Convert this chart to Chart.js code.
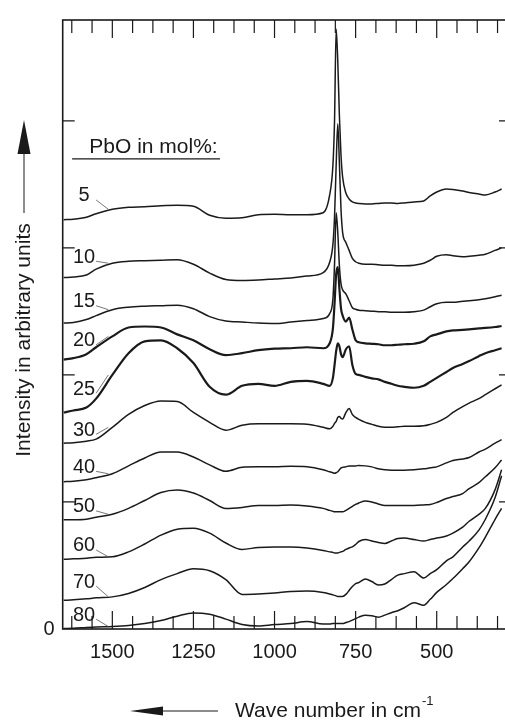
<!DOCTYPE html>
<html>
<head>
<meta charset="utf-8">
<script src="https://cdn.jsdelivr.net/npm/chart.js@4.4.1/dist/chart.umd.min.js"></script>
<style>
  html, body { margin: 0; padding: 0; background: #fff; overflow: hidden; }
  #wrap { position: relative; width: 512px; height: 720px; }
</style>
</head>
<body>
<div id="wrap"><canvas id="chart"></canvas></div>
<script>
// Raman spectra of PbO glasses, stacked, intensity in arbitrary units
const wavenumbers = [1650,1620,1580,1550,1500,1450,1400,1350,1300,1250,1200,1150,1100,1050,1000,950,900,850,830,820,815,810,805,800,795,790,780,770,760,750,740,720,700,680,660,640,620,600,570,540,520,500,470,450,420,400,370,350,320,300];

const pbo5  = [414,414.5,416.5,420,424.5, 426.5,427,428,428.5,427.5, 418.5,415.5,416,419,419.5, 419,419,421,439,469, 514,607,574,519,479, 457,441,435,432,431, 430.5,430,430,430.5,431, 431,430.5,431,432,433, 438,442,445,444.5,443, 441.5,440,439,442,445];
const pbo10 = [355.5,356,358,364,370, 372,372.5,373,373.5,369, 360,353.5,352.5,353,354, 355,357,360.5,371,389, 417,469,511,471,424, 401,391,383,375,371.5, 370,369,369,368.5,368, 368,367.5,367.5,368,370, 373,377,378.5,377.5,376.5, 377,378,379,383,385.5];
const pbo15 = [309.5,310,313,317,323, 325.5,326.5,327,327.5,324, 316,311.5,310.5,309.5,309, 310.5,312,314,319,334, 369,421,401,367,349, 343,339,332,325,323.5, 322.5,322,321.5,321,321, 320.5,320.5,320.5,321,322.5, 326,329,330.5,330.5,331.5, 332,333,334,336,337.5];
const pbo20 = [272.5,274,278,285,296, 305,306,305,298,292, 283,277,279,282,283.5, 284,285,284,289,304, 329,359,366,344,324, 317,311,315,303,292, 290,289,288.5,288,287, 287,287.5,288,288.5,291, 296,298,301,302,302.5, 303,304,304.5,305.5,306.5];
const pbo25 = [219,221,224,233,257, 279,291,292,284,269, 245,237,246,248,246, 250,251,248,246,254, 267,281,289,286,278, 275,283,286,267,258, 257,255,253.5,252.5,250, 248,246,245,244,246, 250,254,260,264,268, 271,276,279,282,284];
const pbo30 = [188,188.5,190,192,204, 217,226,230.5,230,219, 209,201,206,207.5,207.5, 207.5,207,204,202.5,205, 208,210,214,215,213, 212.5,219,223,217,214, 212,209,207,205,204, 204,204.5,205,205,205.5, 207,209,214,219,225, 228.5,233,237,243,247];
const pbo40 = [149,149.5,151,153,157, 165,173,179,179,174, 166,159.5,163.5,164,164, 164.5,164,161,159,158, 157.5,158,159,161,163, 163.5,164,165,165,165, 165.5,165,164,162,161, 160.5,160.5,160.5,161,162, 163,164,168,170.5,172, 173.5,179,182,188,191.5];
const pbo50 = [110.5,110.5,111,113,116, 122,130,138,140.5,137.5, 130,122,123,125,125, 125.5,124.5,122,120,119, 118.5,118.5,118.5,118.5,118.5, 118.5,120,122,124,126, 127.5,129.5,128.5,126.5,125, 125,125,125,125,125.5, 126,128,132,134,137, 142,148,154,163,171];
const pbo60 = [70.5,71,71.5,72.5,73, 78,86,95,101,102, 97,87,80.5,82.5,83, 83,82,79.5,78,77.5, 77,77,77,77.5,78, 78.5,80.5,82,83,85.5, 88.5,90.5,89,87.5,86.5, 89,91.5,92,90.5,89, 90.5,92,94,97,103, 109,116,122,141,161];
const pbo70 = [29,29.5,30.5,31.5,32.5, 36,42,50,56,61, 59,50,35,35.5,36.5, 38,38.5,37,35.5,34.5, 34,33.5,33,33,33, 33,35,39,43,46, 47,50.5,48,44.5,45.5, 50,54.5,56,58,51.5, 56,60,69,73,83, 89,100,111,133,155];
const pbo80 = [0.5,0.7,1.5,2,2.5, 3.5,5.5,8.5,13,16.3, 15,10,4.5,3,4.5, 5.5,7.5,5,5,5.5, 5.5,5.5,5.5,5.5,5.5, 5.5,6.5,7.5,9,10.5, 12,14,13.5,12,14, 16.5,18.5,21.5,26.5,24, 30,37,45,51,61, 68,82,93,111,122];

const compositions = ['5','10','15','20','25','30','40','50','60','70','80'];
const spectra = [pbo5,pbo10,pbo15,pbo20,pbo25,pbo30,pbo40,pbo50,pbo60,pbo70,pbo80];
const labelLevels = [438,376,331,291.5,242.5,201,163.5,123.5,84,47.5,14];

const xTicks = [1625,1562.5,1500,1437.5,1375,1312.5,1250,1187.5,1125,1062.5,1000,937.5,875,812.5,750,687.5,625,562.5,500,437.5,375,312.5];
const xLabelled = [1500,1250,1000,750,500];
const yTicks = [0,128.5,257,385.5,514];

const FONT = '"Liberation Sans", Arial, sans-serif';
const INK = '#1a1a1a';

const datasets = spectra.map((s, i) => ({
  label: compositions[i],
  data: s.map((v, j) => ({ x: wavenumbers[j], y: v })),
  borderColor: INK,
  borderWidth: (i === 3 || i === 4) ? 2.2 : 1.5,
  pointRadius: 0,
  fill: false,
  cubicInterpolationMode: 'monotone'
}));

const decorations = {
  id: 'decorations',
  afterDatasetsDraw(chart) {
    const { ctx, chartArea: a, scales: { x, y } } = chart;
    ctx.save();
    ctx.strokeStyle = INK;
    ctx.lineWidth = 1.2;
    ctx.beginPath();
    x.ticks.forEach(t => {
      const px = x.getPixelForValue(t.value);
      const len = xLabelled.includes(t.value) ? 18 : 13;
      ctx.moveTo(px, a.bottom); ctx.lineTo(px, a.bottom - len);
      ctx.moveTo(px, a.top); ctx.lineTo(px, a.top + len);
    });
    y.ticks.forEach(t => {
      if (t.value === 0) return;
      const py = y.getPixelForValue(t.value);
      ctx.moveTo(a.left, py); ctx.lineTo(a.left + 12, py);
      ctx.moveTo(a.right, py); ctx.lineTo(a.right - 12, py);
    });
    ctx.stroke();
    ctx.lineWidth = 1.6;
    ctx.strokeRect(a.left, a.top, a.right - a.left, a.bottom - a.top);

    // curve labels with leader lines
    ctx.font = '20px ' + FONT;
    ctx.fillStyle = INK;
    ctx.textAlign = 'center';
    ctx.textBaseline = 'middle';
    const tx = x.getPixelForValue(1587);
    compositions.forEach((c, i) => {
      const ty = y.getPixelForValue(labelLevels[i]);
      ctx.fillText(c, tx, ty);
      const p = chart.getDatasetMeta(i).data[4];
      ctx.beginPath();
      ctx.strokeStyle = '#555';
      ctx.lineWidth = 0.8;
      ctx.moveTo(tx + 12, ty + 4);
      ctx.lineTo(p.x - 4, p.y);
      ctx.stroke();
    });

    // header
    ctx.font = '21px ' + FONT;
    ctx.textAlign = 'left';
    ctx.fillText('PbO in mol%:', x.getPixelForValue(1571), y.getPixelForValue(487));
    ctx.beginPath();
    ctx.strokeStyle = INK;
    ctx.lineWidth = 1.2;
    const uy = y.getPixelForValue(475.5);
    ctx.moveTo(x.getPixelForValue(1624), uy);
    ctx.lineTo(x.getPixelForValue(1168), uy);
    ctx.stroke();
    ctx.restore();
  },
  afterDraw(chart) {
    const { ctx } = chart;
    ctx.save();
    ctx.fillStyle = INK;
    ctx.strokeStyle = INK;
    ctx.lineWidth = 1;

    // y title with arrow
    ctx.save();
    ctx.translate(24, 340);
    ctx.rotate(-Math.PI / 2);
    ctx.font = '21px ' + FONT;
    ctx.textAlign = 'center';
    ctx.textBaseline = 'middle';
    ctx.fillText('Intensity in arbitrary units', 0, 0);
    ctx.restore();
    ctx.beginPath();
    ctx.moveTo(24, 213); ctx.lineTo(24, 150);
    ctx.stroke();
    ctx.beginPath();
    ctx.moveTo(24, 120); ctx.lineTo(30.5, 154); ctx.lineTo(17.5, 154);
    ctx.closePath(); ctx.fill();

    // x title with arrow
    ctx.font = '21px ' + FONT;
    ctx.textAlign = 'left';
    ctx.textBaseline = 'alphabetic';
    const t = 'Wave number in cm';
    ctx.fillText(t, 235, 717);
    const w = ctx.measureText(t).width;
    ctx.font = '13px ' + FONT;
    ctx.fillText('-1', 235 + w + 1, 705);
    ctx.beginPath();
    ctx.moveTo(218, 711); ctx.lineTo(158, 711);
    ctx.stroke();
    ctx.beginPath();
    ctx.moveTo(130, 711); ctx.lineTo(163, 706.5); ctx.lineTo(163, 715.5);
    ctx.closePath(); ctx.fill();
    ctx.restore();
  }
};

new Chart(document.getElementById('chart'), {
  type: 'line',
  data: { datasets },
  options: {
    responsive: true,
    maintainAspectRatio: false,
    animation: false,
    events: [],
    layout: { padding: { top: 13, right: 1, left: 0, bottom: 0 } },
    plugins: { legend: { display: false }, tooltip: { enabled: false } },
    scales: {
      x: {
        type: 'linear',
        reverse: true,
        min: 271,
        max: 1653,
        afterBuildTicks: s => { s.ticks = xTicks.map(v => ({ value: v })); },
        afterFit: s => { s.height = 91; },
        grid: { display: false, drawTicks: false },
        border: { display: false },
        ticks: {
          autoSkip: false,
          maxRotation: 0,
          padding: 11,
          color: INK,
          font: { family: FONT, size: 20 },
          callback: v => xLabelled.includes(v) ? String(v) : ''
        }
      },
      y: {
        min: 0,
        max: 616,
        afterBuildTicks: s => { s.ticks = yTicks.map(v => ({ value: v })); },
        afterFit: s => { s.width = 62.7; },
        grid: { display: false, drawTicks: false },
        border: { display: false },
        ticks: {
          padding: 8,
          color: INK,
          font: { family: FONT, size: 20 },
          callback: v => v === 0 ? '0' : ''
        }
      }
    }
  },
  plugins: [decorations]
});
</script>
</body>
</html>
